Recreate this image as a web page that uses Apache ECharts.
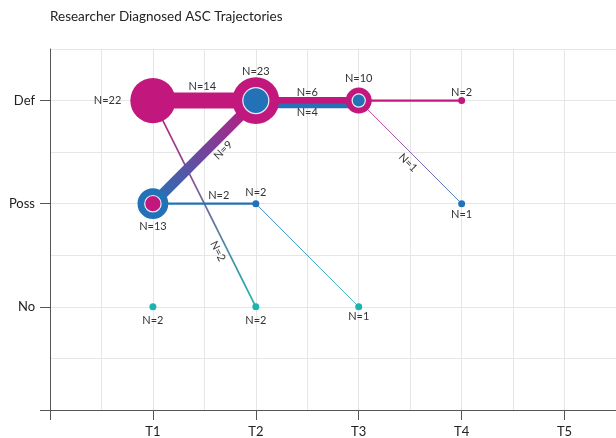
<!DOCTYPE html>
<html>
<head>
<meta charset="utf-8">
<script src="https://cdn.jsdelivr.net/npm/echarts@6/dist/echarts.min.js"></script>
<style>html,body{margin:0;padding:0;background:#fff}#c{width:616px;height:438px}</style>
</head>
<body>
<div id="c"></div>
<script>
// ---- data ----
const times = ['T1', 'T2', 'T3', 'T4', 'T5'];
const states = ['No', 'Poss', 'Def'];
const titleText = 'Researcher Diagnosed ASC Trajectories';

// nodes: T1 Def, T1 Poss, T1 No, T2 Def, T2 Poss, T2 No, T3 Def, T3 No, T4 Def, T4 Poss
const nodeTime  = [1, 1, 1, 2, 2, 2, 3, 3, 4, 4];
const nodeState = [3, 2, 1, 3, 2, 1, 3, 1, 3, 2];
const nodeN     = [22, 13, 2, 23, 2, 2, 10, 1, 2, 1];
const nodeGroup = ['Def', 'Poss', 'No', 'Def', 'Poss', 'No', 'Def', 'No', 'Def', 'Poss'];
const nodeInnerGroup = [null, 'Def', null, 'Poss', null, null, 'Poss', null, null, null];
const nodeInnerN     = [0, 4, 0, 10, 0, 0, 2, 0, 0, 0];

// links
const linkFromTime  = [1, 1, 1, 1, 2, 2, 2, 3, 3];
const linkFromState = [3, 3, 2, 2, 3, 3, 2, 3, 3];
const linkToTime    = [2, 2, 2, 2, 3, 3, 3, 4, 4];
const linkToState   = [3, 1, 3, 2, 3, 3, 1, 3, 2];
const linkN         = [14, 2, 9, 2, 6, 4, 1, 2, 1];
const linkFromGroup = ['Def', 'Def', 'Poss', 'Poss', 'Def', 'Poss', 'Poss', 'Def', 'Def'];
const linkToGroup   = ['Def', 'No', 'Def', 'Poss', 'Def', 'Poss', 'No', 'Def', 'Poss'];
const linkLabelled  = [true, true, true, true, true, true, false, false, true];

// ---- styles ----
const groupColor = { Def: '#C2187E', Poss: '#2372B8', No: '#1DB4B0' };
const FONT = 'Lato, "Open Sans", sans-serif';
const nodeLabelPlace = ['left', 'bottom', 'bottom', 'top', 'top', 'bottom', 'top', 'bottom', 'top', 'bottom'];
const nodeLabelGap   = [9, 2, 5, 1, 3, 5, 4, 1, 0, 2];
const linkLane       = [0, 0, 0, 0, 0, 5.5, 0, 0, 0];
const linkLabelT     = [0.48, 0.71, 0.6, 0.64, 0.5, 0.5, 0.5, 0.5, 0.54];
const linkLabelSide  = [-14, 9, 12, -8, -8, 6, 0, 0, 9];

function outerR(n) { return n <= 2 ? 3.5 : 5 + 0.8 * n; }
function innerR(n) { return 5 + 0.8 * n; }
function linkW(n, diag) { return diag && n <= 2 ? 0.85 * n : 1.15 * n; }

const chart = echarts.init(document.getElementById('c'), null, { renderer: 'canvas' });

const linkData = linkN.map((n, i) => [linkFromTime[i], linkFromState[i], linkToTime[i], linkToState[i], i]);
const nodeData = nodeN.map((n, i) => [nodeTime[i], nodeState[i], i]);

function renderLink(params, api) {
  const i = api.value(4);
  const p1 = api.coord([api.value(0), api.value(1)]);
  const p2 = api.coord([api.value(2), api.value(3)]);
  const dx = p2[0] - p1[0], dy = p2[1] - p1[1];
  const len = Math.sqrt(dx * dx + dy * dy);
  const ux = dx / len, uy = dy / len;
  const nx = -uy, ny = ux;
  const off = linkLane[i];
  const x1 = p1[0] + nx * off, y1 = p1[1] + ny * off;
  const x2 = p2[0] + nx * off, y2 = p2[1] + ny * off;
  const c1 = groupColor[linkFromGroup[i]], c2 = groupColor[linkToGroup[i]];
  const children = [{
    type: 'line',
    shape: { x1: x1, y1: y1, x2: x2, y2: y2 },
    style: {
      stroke: new echarts.graphic.LinearGradient(x1, y1, x2, y2, [
        { offset: 0, color: c1 }, { offset: 1, color: c2 }
      ], true),
      lineWidth: linkW(linkN[i], Math.abs(dy) > 1),
      lineCap: 'butt'
    }
  }];
  if (linkLabelled[i]) {
    const t = linkLabelT[i], s = linkLabelSide[i];
    children.push({
      type: 'text',
      x: x1 + dx * t + nx * s,
      y: y1 + dy * t + ny * s,
      rotation: -Math.atan2(dy, dx),
      style: { text: 'N=' + linkN[i], fill: '#333', font: '11px ' + FONT, align: 'center', verticalAlign: 'middle' }
    });
  }
  return { type: 'group', children: children };
}

function renderNode(params, api) {
  const i = api.value(2);
  const p = api.coord([api.value(0), api.value(1)]);
  const r = outerR(nodeN[i]);
  const children = [{
    type: 'circle',
    shape: { cx: p[0], cy: p[1], r: r },
    style: { fill: groupColor[nodeGroup[i]] }
  }];
  if (nodeInnerGroup[i]) {
    children.push({
      type: 'circle',
      shape: { cx: p[0], cy: p[1], r: innerR(nodeInnerN[i]) },
      style: { fill: groupColor[nodeInnerGroup[i]], stroke: '#e8eef6', lineWidth: 1.2 }
    });
  }
  const place = nodeLabelPlace[i], gap = nodeLabelGap[i];
  let tx = p[0], ty = p[1], align = 'center';
  if (place === 'left') { tx = p[0] - r - gap; align = 'right'; }
  else if (place === 'top') { ty = p[1] - r - gap - 5; }
  else { ty = p[1] + r + gap + 5; }
  children.push({
    type: 'text', x: tx, y: ty,
    style: { text: 'N=' + nodeN[i], fill: '#333', font: '11px ' + FONT, align: align, verticalAlign: 'middle' }
  });
  return { type: 'group', children: children };
}

const axisCol = '#555';
const gridCol = '#e6e6e6';

chart.setOption({
  animation: false,
  backgroundColor: '#fff',
  title: {
    text: titleText, left: 45, top: 5,
    textStyle: { fontFamily: FONT, fontSize: 13.5, fontWeight: 'normal', color: '#222' }
  },
  grid: { left: 50, right: -2, top: 49, bottom: 26 },
  xAxis: [{
    type: 'value', min: 0, max: 5.5, interval: 0.5, position: 'bottom',
    axisLine: { show: true, lineStyle: { color: axisCol, width: 1 } },
    axisTick: { show: true, length: 10, customValues: [0, 1, 2, 3, 4, 5], lineStyle: { color: axisCol } },
    axisLabel: { customValues: [1, 2, 3, 4, 5], formatter: v => times[Math.round(v) - 1] || '', margin: 15, fontFamily: FONT, fontSize: 13, color: '#222' },
    splitLine: { show: false }
  }, {
    type: 'value', min: 0, max: 5.5, interval: 0.5, position: 'top',
    axisLine: { show: false }, axisTick: { show: false }, axisLabel: { show: false },
    splitLine: { show: true, lineStyle: { color: gridCol, width: 1 } }
  }],
  yAxis: [{
    type: 'value', min: 0, max: 3.5, interval: 0.5, position: 'left',
    axisLine: { show: true, lineStyle: { color: axisCol, width: 1 } },
    axisTick: { show: true, length: 10, customValues: [0, 1, 2, 3], lineStyle: { color: axisCol } },
    axisLabel: { customValues: [1, 2, 3], formatter: v => states[Math.round(v) - 1] || '', margin: 15, fontFamily: FONT, fontSize: 13, color: '#222' },
    splitLine: { show: false }
  }, {
    type: 'value', min: 0, max: 3.5, interval: 0.5, position: 'right',
    axisLine: { show: false }, axisTick: { show: false }, axisLabel: { show: false },
    splitLine: { show: true, lineStyle: { color: gridCol, width: 1 } }
  }],
  series: [{
    type: 'custom', xAxisIndex: 0, yAxisIndex: 0, renderItem: renderLink,
    data: linkData, encode: { x: [0, 2], y: [1, 3] }, z: 2, silent: true
  }, {
    type: 'custom', xAxisIndex: 0, yAxisIndex: 0, renderItem: renderNode,
    data: nodeData, encode: { x: 0, y: 1 }, z: 3, silent: true
  }]
});
</script>
</body>
</html>
